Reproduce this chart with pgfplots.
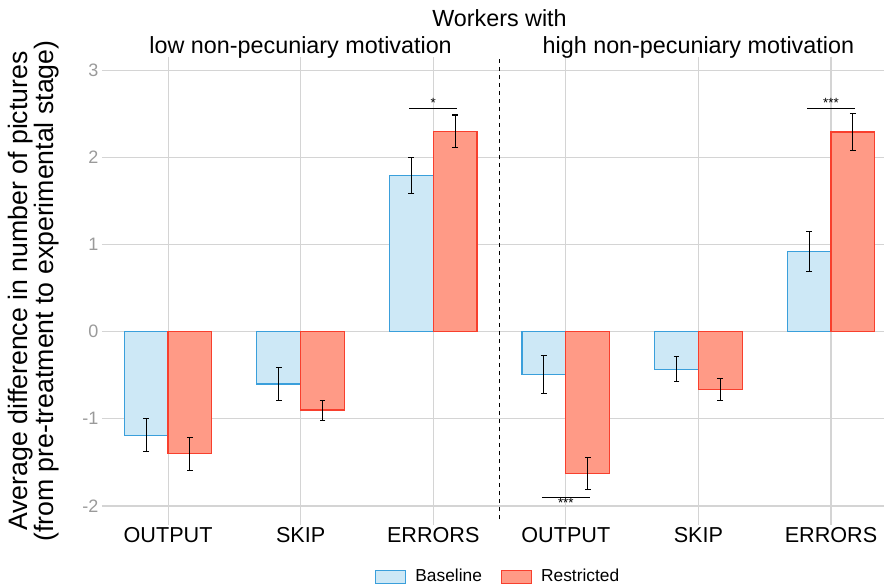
\documentclass[border=0pt]{standalone}
\usepackage{pgfplots}
\pgfplotsset{compat=1.18}
\usepackage{fontspec}
\setmainfont{Liberation Sans}
\definecolor{basefill}{HTML}{CDE8F6}
\definecolor{basedraw}{HTML}{3A9FDB}
\definecolor{restfill}{HTML}{FF9A86}
\definecolor{restdraw}{HTML}{F83F2D}
\definecolor{gridc}{HTML}{D4D4D4}
\definecolor{tickc}{HTML}{9A9A9A}

% x, value, error
\pgfplotstableread{
x y e
0 -1.19 0.19
1 -0.60 0.19
2 1.79 0.21
3 -0.49 0.215
4 -0.43 0.14
5 0.915 0.23
}\baseline
\pgfplotstableread{
x y e
0 -1.40 0.19
1 -0.90 0.115
2 2.30 0.185
3 -1.625 0.185
4 -0.66 0.125
5 2.29 0.215
}\restricted

\begin{document}
\begin{tikzpicture}
\begin{axis}[
 scale only axis,width=586.5pt,height=351pt,
 xmin=-0.5,xmax=5.4,ymin=-2.22,ymax=3.15,
 clip=false,
 axis line style={draw=none},
 major tick length=0pt,
 grid=major,grid style={gridc,line width=0.8pt},
 xtick={0,...,5},
 xticklabels={OUTPUT,SKIP,ERRORS,OUTPUT,SKIP,ERRORS},
 ytick={-2,...,3},
 /pgf/number format/assume math mode=true,
 xticklabel style={font=\fontsize{16.2}{18}\selectfont,text=black,yshift=2pt},
 yticklabel style={font=\fontsize{13.5}{15}\selectfont,text=tickc,xshift=1pt},
 ylabel={Average difference in number of pictures\\(from pre-treatment to experimental stage)},
 ylabel style={font=\fontsize{20}{19}\selectfont,align=center,yshift=11pt},
 ybar,bar width=0.33,
 legend style={draw=none,at={(0.507,-0.11)},anchor=center,legend columns=2,
   font=\fontsize{13}{15}\selectfont,
   /tikz/every odd column/.append style={column sep=5pt},
   /tikz/every even column/.append style={column sep=12pt}},
 legend image code/.code={\draw[#1,line width=0.9pt] (0pt,-4.9pt) rectangle (22.5pt,4.9pt);},
 error bars/y dir=both,error bars/y explicit,
 error bars/error mark options={rotate=90,mark size=2.2pt,line width=0.8pt,black},
 error bars/error bar style={line width=0.8pt,black},
]
\addplot[bar shift=-0.165,fill=basefill,draw=basedraw,line width=0.9pt]
  table[x=x,y=y,y error=e]{\baseline};
\addlegendentry{Baseline}
\addplot[bar shift=0.165,fill=restfill,draw=restdraw,line width=0.9pt]
  table[x=x,y=y,y error=e]{\restricted};
\addlegendentry{Restricted}

\addplot[sharp plot,black,dashed,line width=0.7pt,forget plot]
  coordinates {(2.5,-2.15) (2.5,3.15)};
\addplot[sharp plot,black,line width=0.6pt,forget plot]
  coordinates {(1.82,2.56) (2.18,2.56)};
\addplot[sharp plot,black,line width=0.6pt,forget plot]
  coordinates {(4.82,2.56) (5.18,2.56)};
\addplot[sharp plot,black,line width=0.6pt,forget plot]
  coordinates {(2.82,-1.90) (3.18,-1.90)};
\node[font=\fontsize{10}{10}\selectfont,anchor=south,inner sep=0.5pt] at (axis cs:2,2.56) {*};
\node[font=\fontsize{10}{10}\selectfont,anchor=south,inner sep=0.5pt] at (axis cs:5,2.56) {***};
\node[font=\fontsize{10}{10}\selectfont,anchor=north,inner sep=0.5pt] at (axis cs:3,-1.90) {***};

\node[font=\fontsize{17.5}{18}\selectfont,anchor=base] at ([yshift=3pt]axis cs:1,3.15) {low non-pecuniary motivation};
\node[font=\fontsize{17.5}{18}\selectfont,anchor=base] at ([yshift=3pt]axis cs:4,3.15) {high non-pecuniary motivation};
\node[font=\fontsize{17.5}{18}\selectfont,anchor=base] at ([yshift=23pt]axis cs:2.5,3.15) {Workers with};

\coordinate (bl) at (rel axis cs:0,0);
\coordinate (tr) at (rel axis cs:1,1);
\end{axis}
\pgfresetboundingbox
\path[use as bounding box] ([xshift=-76.3pt,yshift=-46.5pt]bl) rectangle ([yshift=42.75pt]tr);
\end{tikzpicture}
\end{document}
